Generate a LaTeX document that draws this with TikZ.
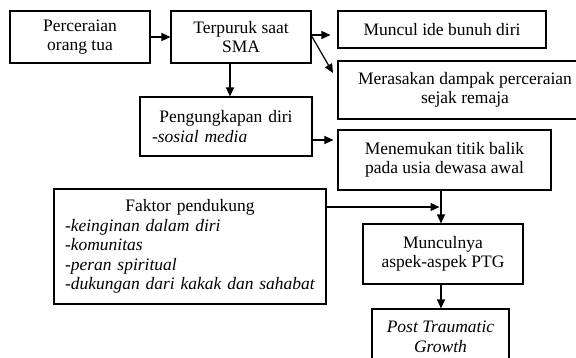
\documentclass[tikz,border=0pt]{standalone}
\usepackage{fontspec}
\setmainfont{Liberation Serif}[ItalicFont={Liberation Serif Italic},BoldFont={Liberation Serif Bold}]
\usetikzlibrary{arrows.meta,calc}
\begin{document}
\begin{tikzpicture}[x=1pt,y=-1pt,
  box/.style={draw=black, line width=1.1pt, rectangle, inner sep=0pt, align=center,
    font=\fontsize{17.5}{19.5}\selectfont},
  arr/.style={line width=1.2pt, -{Triangle[length=9pt,width=8pt]}}]
\useasboundingbox (0,0) rectangle (576,358);
\clip (0,0) rectangle (576,358);
\fill[white] (0,0) rectangle (576,358);

\node[box, minimum width=140pt, minimum height=52pt] (b1) at (80,37) {Perceraian\\orang tua};
\node[box, minimum width=140pt, minimum height=52pt] (b2) at (241,37) {Terpuruk saat\\SMA};
\node[box, minimum width=208pt, minimum height=37pt] (b3) at (442,29.5) {Muncul ide bunuh diri};
\node[box, minimum width=254pt, minimum height=58pt] (b4) at (465,90) {Merasakan dampak perceraian\\sejak remaja};
\node[box, minimum width=172pt, minimum height=59pt, text width=148pt, align=left] (b5) at (226,126.5)
  {\makebox[\linewidth][c]{Pengungkapan diri}\\\mbox{\textit{-sosial media}}};
\node[box, minimum width=272pt, minimum height=115pt, text width=250pt, align=left] (b7) at (190,246.5)
  {\makebox[\linewidth][c]{Faktor pendukung}\\\mbox{\textit{-keinginan dalam diri}}\\\mbox{\textit{-komunitas}}\\\mbox{\textit{-peran spiritual}}\\\mbox{\textit{-dukungan dari kakak dan sahabat}}};
\node[box, minimum width=213pt, minimum height=60pt] (b6) at (444.5,160) {Menemukan titik balik\\pada usia dewasa awal};
\node[box, minimum width=160pt, minimum height=60pt] (b8) at (443,254) {Munculnya\\aspek-aspek PTG};
\node[box, minimum width=137pt, minimum height=56pt] (b9) at (440.5,337) {\textit{Post Traumatic}\\\textit{Growth}};

\coordinate (fork) at (311,35);
\coordinate (t4) at (333,73);
\coordinate (v) at (230,0);
\coordinate (h) at (0,140);
\coordinate (w) at (441,0);
\coordinate (j) at (441,207);

\draw[arr] (b1.east) -- (b2.west);
\draw[arr] (fork) -- ([xshift=-7pt]fork -| b3.west);
\draw[arr] (fork) -- (t4);
\draw[arr] (b2.south -| v) -- (b5.north -| v);
\draw[arr] (b5.east |- h) -- ([xshift=-4pt]b6.west |- h);
\draw[arr] (b6.south -| w) -- (b8.north -| w);
\draw[arr] (b7.east |- j) -- ([xshift=-1.5pt]j);
\draw[arr] (b8.south -| w) -- (b9.north -| w);
\end{tikzpicture}
\end{document}
